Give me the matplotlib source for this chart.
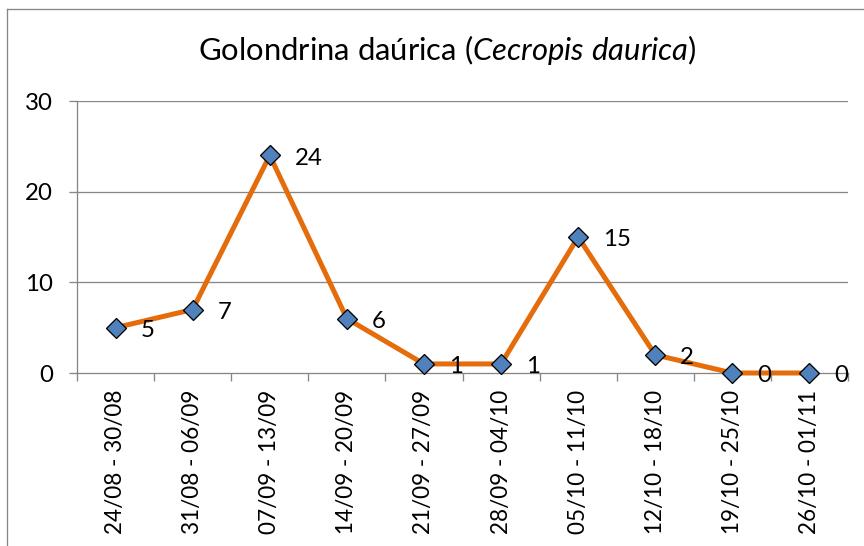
import matplotlib
matplotlib.use("Agg")
import matplotlib.pyplot as plt
from matplotlib.lines import Line2D

# weekly counts
weeks = ["24/08 - 30/08", "31/08 - 06/09", "07/09 - 13/09", "14/09 - 20/09",
         "21/09 - 27/09", "28/09 - 04/10", "05/10 - 11/10", "12/10 - 18/10",
         "19/10 - 25/10", "26/10 - 01/11"]
counts = [5, 7, 24, 6, 1, 1, 15, 2, 0, 0]
yticks = [0, 10, 20, 30]

plt.rcParams['font.family'] = ['Lato', 'DejaVu Sans']
plt.rcParams['mathtext.fontset'] = 'custom'
plt.rcParams['mathtext.rm'] = 'Lato'
plt.rcParams['mathtext.it'] = 'Lato:italic'

W, H = 864, 546
fig = plt.figure(figsize=(W / 72, H / 72), dpi=72)
ax = fig.add_axes([77 / W, (H - 373) / H, (848 - 77) / W, (373 - 101) / H])

grid_col = '#868686'
x = list(range(len(weeks)))

ax.plot(x, counts, color='#E46C0A', lw=5, zorder=3, clip_on=False,
        solid_joinstyle='round')
ax.plot(x, counts, ls='none', marker='D', ms=13.5, mfc='#4F81BD', mec='black',
        mew=1.3, zorder=4, clip_on=False)

for i, v in enumerate(counts):
    ax.annotate(str(v), (i, v), xytext=(25, -3), textcoords='offset points',
                ha='left', va='center', fontsize=24, zorder=5)

ax.set_xlim(-0.5, len(weeks) - 0.5)
ax.set_ylim(0, 30)
ax.set_yticks(yticks)
ax.set_xticks(x)
ax.set_xticklabels(weeks, rotation=90, fontsize=22.5)
ax.set_xticks([i - 0.5 for i in range(len(weeks) + 1)], minor=True)
ax.tick_params(axis='x', which='major', length=0, pad=17)
ax.tick_params(axis='x', which='minor', length=8, color=grid_col, width=1.3)
ax.tick_params(axis='y', length=8, color=grid_col, width=1.3, pad=16, labelsize=24)

for y in yticks[1:]:
    ax.axhline(y, color=grid_col, lw=1.3, zorder=1)

for s in ['top', 'right']:
    ax.spines[s].set_visible(False)
for s in ['left', 'bottom']:
    ax.spines[s].set_color(grid_col)
    ax.spines[s].set_linewidth(1.3)

fig.text(447 / W, (H - 50) / H, 'Golondrina daúrica ($\\it{Cecropis\\ daurica}$)',
         ha='center', va='center', fontsize=31)

# chart frame
fig.add_artist(Line2D([7 / W, 7 / W], [0, (H - 9) / H], color=grid_col, lw=1.3,
                      transform=fig.transFigure))
fig.add_artist(Line2D([7 / W, 1], [(H - 9) / H, (H - 9) / H], color=grid_col, lw=1.3,
                      transform=fig.transFigure))

fig.savefig('out.png', dpi=72, facecolor='white')
